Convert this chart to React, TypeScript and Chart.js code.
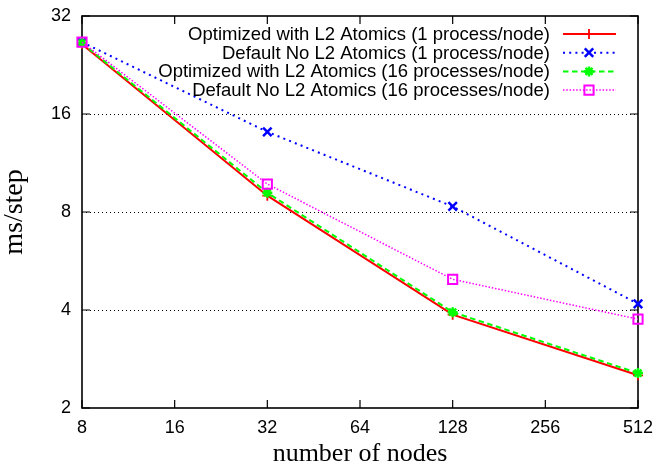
import React, { useEffect, useRef } from 'react';
import { Chart, registerables } from 'chart.js';

Chart.register(...registerables);

// ---- data ----
const nodes = [8, 32, 128, 512];
const optL2OneProc = [26.2, 8.98, 3.87, 2.52];
const defaultOneProc = [26.6, 14.1, 8.32, 4.18];
const optL2SixteenProc = [26.4, 9.17, 3.94, 2.56];
const defaultSixteenProc = [26.6, 9.75, 4.97, 3.75];

const seriesLabels = [
  'Optimized with L2 Atomics (1 process/node)',
  'Default No L2 Atomics (1 process/node)',
  'Optimized with L2 Atomics (16 processes/node)',
  'Default No L2 Atomics (16 processes/node)',
];

const xTicks = [8, 16, 32, 64, 128, 256, 512];
const yTicks = [2, 4, 8, 16, 32];
const yGridValues = [4, 8, 16];

const xTitle = 'number of nodes';
const yTitle = 'ms/step';

// ---- styles ----
const seriesStyles = [
  { color: '#ff0000', dash: [] as number[], width: 2, point: 'cross', radius: 5, pointWidth: 1.8 },
  { color: '#0000ff', dash: [2, 4.2], width: 2, point: 'crossRot', radius: 6, pointWidth: 2.5 },
  { color: '#00ff00', dash: [5.5, 3.5], width: 2, point: 'star', radius: 5, pointWidth: 2.5 },
  { color: '#ff00ff', dash: [1.5, 1.8], width: 1.5, point: 'rect', radius: 6.5, pointWidth: 2 },
];

const allSeries = [optL2OneProc, defaultOneProc, optL2SixteenProc, defaultSixteenProc];

const SANS = '"Liberation Sans", Arial, Helvetica, sans-serif';
const SERIF = '"Liberation Serif", "Times New Roman", serif';

function drawMarker(ctx: CanvasRenderingContext2D, style: string, x: number, y: number, r: number) {
  ctx.beginPath();
  if (style === 'cross' || style === 'star') {
    ctx.moveTo(x - r, y); ctx.lineTo(x + r, y);
    ctx.moveTo(x, y - r); ctx.lineTo(x, y + r);
  }
  if (style === 'crossRot' || style === 'star') {
    const d = r * Math.SQRT1_2;
    ctx.moveTo(x - d, y - d); ctx.lineTo(x + d, y + d);
    ctx.moveTo(x - d, y + d); ctx.lineTo(x + d, y - d);
  }
  if (style === 'rect') {
    const s = r * Math.SQRT1_2;
    ctx.rect(x - s, y - s, 2 * s, 2 * s);
  }
  ctx.stroke();
}

const framePlugin = {
  id: 'gnuFrame',
  beforeDatasetsDraw(chart: any) {
    const { ctx, chartArea: a, scales } = chart;
    const xs = scales.x;
    const ys = scales.y;
    ctx.save();
    ctx.strokeStyle = '#000';
    ctx.lineWidth = 1;
    ctx.setLineDash([1, 3]);
    for (const v of yGridValues) {
      const y = Math.round(ys.getPixelForValue(v)) + 0.5;
      ctx.beginPath();
      ctx.moveTo(a.left, y);
      ctx.lineTo(a.right, y);
      ctx.stroke();
    }
    ctx.setLineDash([]);
    ctx.lineWidth = 1.2;
    const tl = 8;
    for (const v of xTicks) {
      const x = xs.getPixelForValue(v);
      ctx.beginPath();
      ctx.moveTo(x, a.bottom); ctx.lineTo(x, a.bottom - tl);
      ctx.moveTo(x, a.top); ctx.lineTo(x, a.top + tl);
      ctx.stroke();
    }
    for (const v of yTicks) {
      const y = ys.getPixelForValue(v);
      ctx.beginPath();
      ctx.moveTo(a.left, y); ctx.lineTo(a.left + tl, y);
      ctx.moveTo(a.right, y); ctx.lineTo(a.right - tl, y);
      ctx.stroke();
    }
    ctx.lineWidth = 1.6;
    ctx.strokeRect(a.left, a.top, a.right - a.left, a.bottom - a.top);
    ctx.restore();
  },
};

const keyPlugin = {
  id: 'gnuKey',
  afterDraw(chart: any) {
    const { ctx, chartArea: a } = chart;
    ctx.save();
    ctx.font = `18.5px ${SANS}`;
    ctx.fillStyle = '#000';
    ctx.textAlign = 'right';
    ctx.textBaseline = 'middle';
    seriesLabels.forEach((label, i) => {
      const st = seriesStyles[i];
      const y = a.top + 18 + i * 18.7;
      ctx.fillText(label, a.right - 88, y + 1);
      ctx.strokeStyle = st.color;
      ctx.lineWidth = st.width;
      ctx.setLineDash(st.dash);
      ctx.beginPath();
      ctx.moveTo(a.right - 75, y);
      ctx.lineTo(a.right - 22, y);
      ctx.stroke();
      ctx.setLineDash([]);
      ctx.lineWidth = st.pointWidth;
      drawMarker(ctx, st.point, a.right - 49, y, st.radius);
    });
    ctx.restore();
  },
};

function zeroPadding(s: any) {
  s.paddingTop = 0;
  s.paddingBottom = 0;
  s.paddingLeft = 0;
  s.paddingRight = 0;
}

export default function App() {
  const ref = useRef<HTMLCanvasElement>(null);
  useEffect(() => {
    document.body.style.margin = '0';
    const canvas = ref.current!;
    const chart = new Chart(canvas, {
      type: 'line',
      data: {
        datasets: allSeries.map((vals, i) => {
          const st = seriesStyles[i];
          return {
            label: seriesLabels[i],
            data: nodes.map((n, j) => ({ x: n, y: vals[j] })),
            borderColor: st.color,
            borderWidth: st.width,
            borderDash: st.dash,
            pointStyle: st.point as any,
            pointRadius: st.radius,
            pointBorderWidth: st.pointWidth,
            pointBorderColor: st.color,
            pointBackgroundColor: 'rgba(0,0,0,0)',
            pointHoverRadius: st.radius,
            fill: false,
            tension: 0,
            clip: false as any,
            order: 4 - i,
          };
        }),
      },
      options: {
        animation: false,
        responsive: false,
        devicePixelRatio: 1,
        events: [],
        layout: { padding: { top: 16, right: 20, left: 0, bottom: 0 } },
        plugins: {
          legend: { display: false },
          tooltip: { enabled: false },
        },
        scales: {
          x: {
            type: 'logarithmic',
            position: 'bottom',
            min: 8,
            max: 512,
            afterBuildTicks: (s: any) => {
              s.ticks = xTicks.map((v) => ({ value: v }));
            },
            afterFit: (s: any) => {
              s.height = 58;
              zeroPadding(s);
            },
            ticks: {
              callback: (v: any) => String(v),
              font: { family: SANS, size: 18 },
              color: '#000',
              padding: 9,
              maxRotation: 0,
              autoSkip: false,
            },
            grid: { display: false, drawTicks: false },
            border: { display: false },
            title: {
              display: true,
              text: xTitle,
              color: '#000',
              font: { family: SERIF, size: 26, lineHeight: 0.9 },
              padding: { top: 0, bottom: 0 },
            },
          },
          y: {
            type: 'logarithmic',
            position: 'left',
            min: 2,
            max: 32,
            afterBuildTicks: (s: any) => {
              s.ticks = yTicks.map((v) => ({ value: v }));
            },
            afterFit: (s: any) => {
              s.width = 82;
              zeroPadding(s);
            },
            ticks: {
              callback: (v: any) => String(v),
              font: { family: SANS, size: 18 },
              color: '#000',
              padding: 11,
              autoSkip: false,
            },
            grid: { display: false, drawTicks: false },
            border: { display: false },
            title: {
              display: true,
              text: yTitle,
              color: '#000',
              font: { family: SERIF, size: 28, lineHeight: 1 },
              padding: { top: 1, bottom: 0 },
            },
          },
        },
      },
      plugins: [framePlugin, keyPlugin],
    });
    return () => {
      chart.destroy();
    };
  }, []);
  return (
    <div style={{ width: 658, height: 466, position: 'relative' }}>
      <canvas ref={ref} width={658} height={466} style={{ display: 'block' }} />
    </div>
  );
}
